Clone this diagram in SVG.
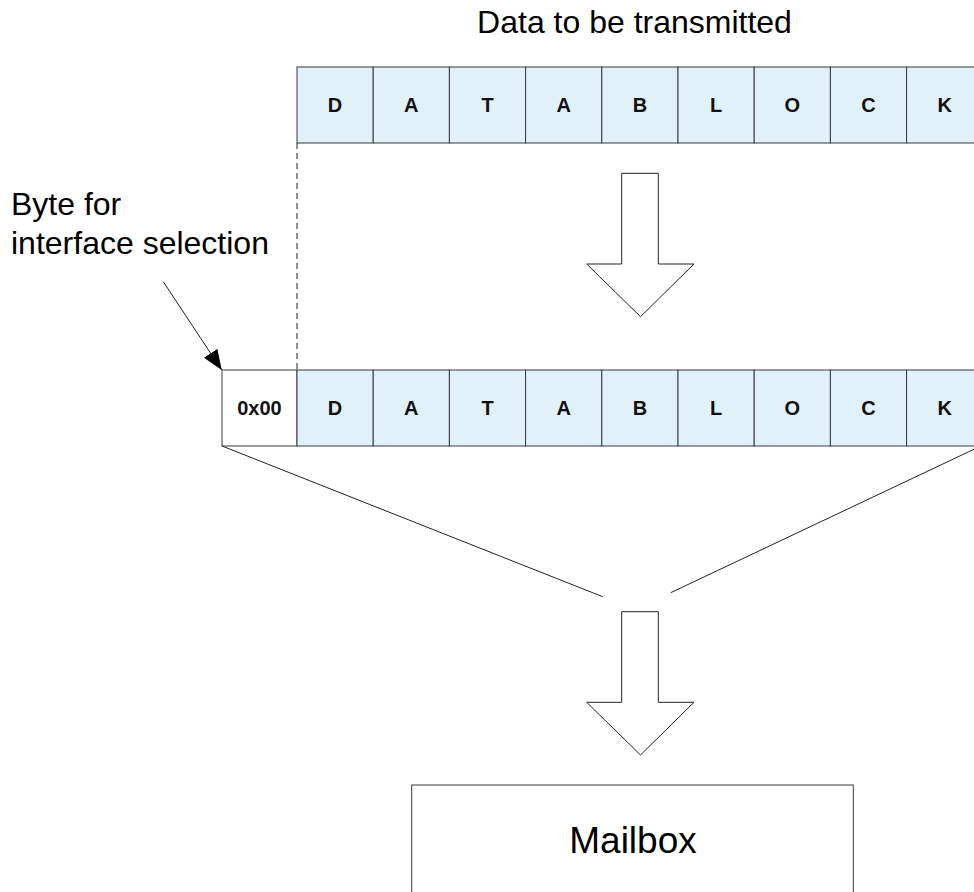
<svg xmlns="http://www.w3.org/2000/svg" width="974" height="892" viewBox="0 0 974 892">
  <style>
    .cell { fill: #e1f1fa; stroke: #3a3a3a; stroke-width: 1; }
    .plain { fill: #ffffff; stroke: #3a3a3a; stroke-width: 1; }
    .lbl { font-family: "Liberation Sans", Arial, sans-serif; font-size: 20px; font-weight: bold; fill: #111; text-anchor: middle; }
    .big { font-family: "Liberation Sans", Arial, sans-serif; fill: #000; }
    .ln { stroke: #222; stroke-width: 1; fill: none; }
    .blk { fill: #ffffff; stroke: #222; stroke-width: 1; }
  </style>
  <defs>
    <marker id="ah" viewBox="0 0 20 16" refX="20" refY="8" markerWidth="20" markerHeight="16" markerUnits="userSpaceOnUse" orient="auto">
      <path d="M0,0 L20,8 L0,16 Z" fill="#000"/>
    </marker>
  </defs>
  <rect width="974" height="892" fill="#fff"/>

  <text class="big" x="634.5" y="33" font-size="32" text-anchor="middle">Data to be transmitted</text>

  <g id="source-block">
    <rect class="cell" x="297" y="67" width="76.2" height="76"/>
    <rect class="cell" x="373.2" y="67" width="76.2" height="76"/>
    <rect class="cell" x="449.4" y="67" width="76.2" height="76"/>
    <rect class="cell" x="525.6" y="67" width="76.2" height="76"/>
    <rect class="cell" x="601.8" y="67" width="76.2" height="76"/>
    <rect class="cell" x="678" y="67" width="76.2" height="76"/>
    <rect class="cell" x="754.2" y="67" width="76.2" height="76"/>
    <rect class="cell" x="830.4" y="67" width="76.2" height="76"/>
    <rect class="cell" x="906.6" y="67" width="76.2" height="76"/>
    <text class="lbl" x="335.1" y="112">D</text>
    <text class="lbl" x="411.3" y="112">A</text>
    <text class="lbl" x="487.5" y="112">T</text>
    <text class="lbl" x="563.7" y="112">A</text>
    <text class="lbl" x="639.9" y="112">B</text>
    <text class="lbl" x="716.1" y="112">L</text>
    <text class="lbl" x="792.3" y="112">O</text>
    <text class="lbl" x="868.5" y="112">C</text>
    <text class="lbl" x="944.7" y="112">K</text>
  </g>

  <g id="arrow-1">
    <path class="blk" d="M621.7,173.3 L658.3,173.3 L658.3,264 L694,264 L640.5,316.7 L586.7,264 L621.7,264 Z"/>
  </g>

  <g id="label-byte">
    <text class="big" x="11" y="215" font-size="32">Byte for</text>
    <text class="big" x="11" y="254" font-size="32">interface selection</text>
  </g>

  <g id="framed-block">
    <rect class="plain" x="222" y="370" width="75" height="76"/>
    <text class="lbl" x="259.5" y="415">0x00</text>
    <rect class="cell" x="297" y="370" width="76.2" height="76"/>
    <rect class="cell" x="373.2" y="370" width="76.2" height="76"/>
    <rect class="cell" x="449.4" y="370" width="76.2" height="76"/>
    <rect class="cell" x="525.6" y="370" width="76.2" height="76"/>
    <rect class="cell" x="601.8" y="370" width="76.2" height="76"/>
    <rect class="cell" x="678" y="370" width="76.2" height="76"/>
    <rect class="cell" x="754.2" y="370" width="76.2" height="76"/>
    <rect class="cell" x="830.4" y="370" width="76.2" height="76"/>
    <rect class="cell" x="906.6" y="370" width="76.2" height="76"/>
    <text class="lbl" x="335.1" y="415">D</text>
    <text class="lbl" x="411.3" y="415">A</text>
    <text class="lbl" x="487.5" y="415">T</text>
    <text class="lbl" x="563.7" y="415">A</text>
    <text class="lbl" x="639.9" y="415">B</text>
    <text class="lbl" x="716.1" y="415">L</text>
    <text class="lbl" x="792.3" y="415">O</text>
    <text class="lbl" x="868.5" y="415">C</text>
    <text class="lbl" x="944.7" y="415">K</text>
  </g>

  <g id="arrow-2">
    <path class="blk" d="M621.7,611.7 L658.3,611.7 L658.3,702.3 L694,702.3 L640.5,755 L586.7,702.3 L621.7,702.3 Z"/>
  </g>

  <g id="mailbox">
    <rect class="plain" x="411.7" y="785" width="441.6" height="120"/>
    <text class="big" x="633" y="853" font-size="37" text-anchor="middle">Mailbox</text>
  </g>

  <g id="connectors">
    <line class="ln" x1="297" y1="143" x2="297" y2="370" stroke-dasharray="6,4"/>
    <line class="ln" x1="163.3" y1="281.7" x2="221.7" y2="370" marker-end="url(#ah)"/>
    <line class="ln" x1="222" y1="446" x2="602.7" y2="596.7"/>
    <line class="ln" x1="983" y1="445" x2="670.7" y2="592.7"/>
  </g>
</svg>
